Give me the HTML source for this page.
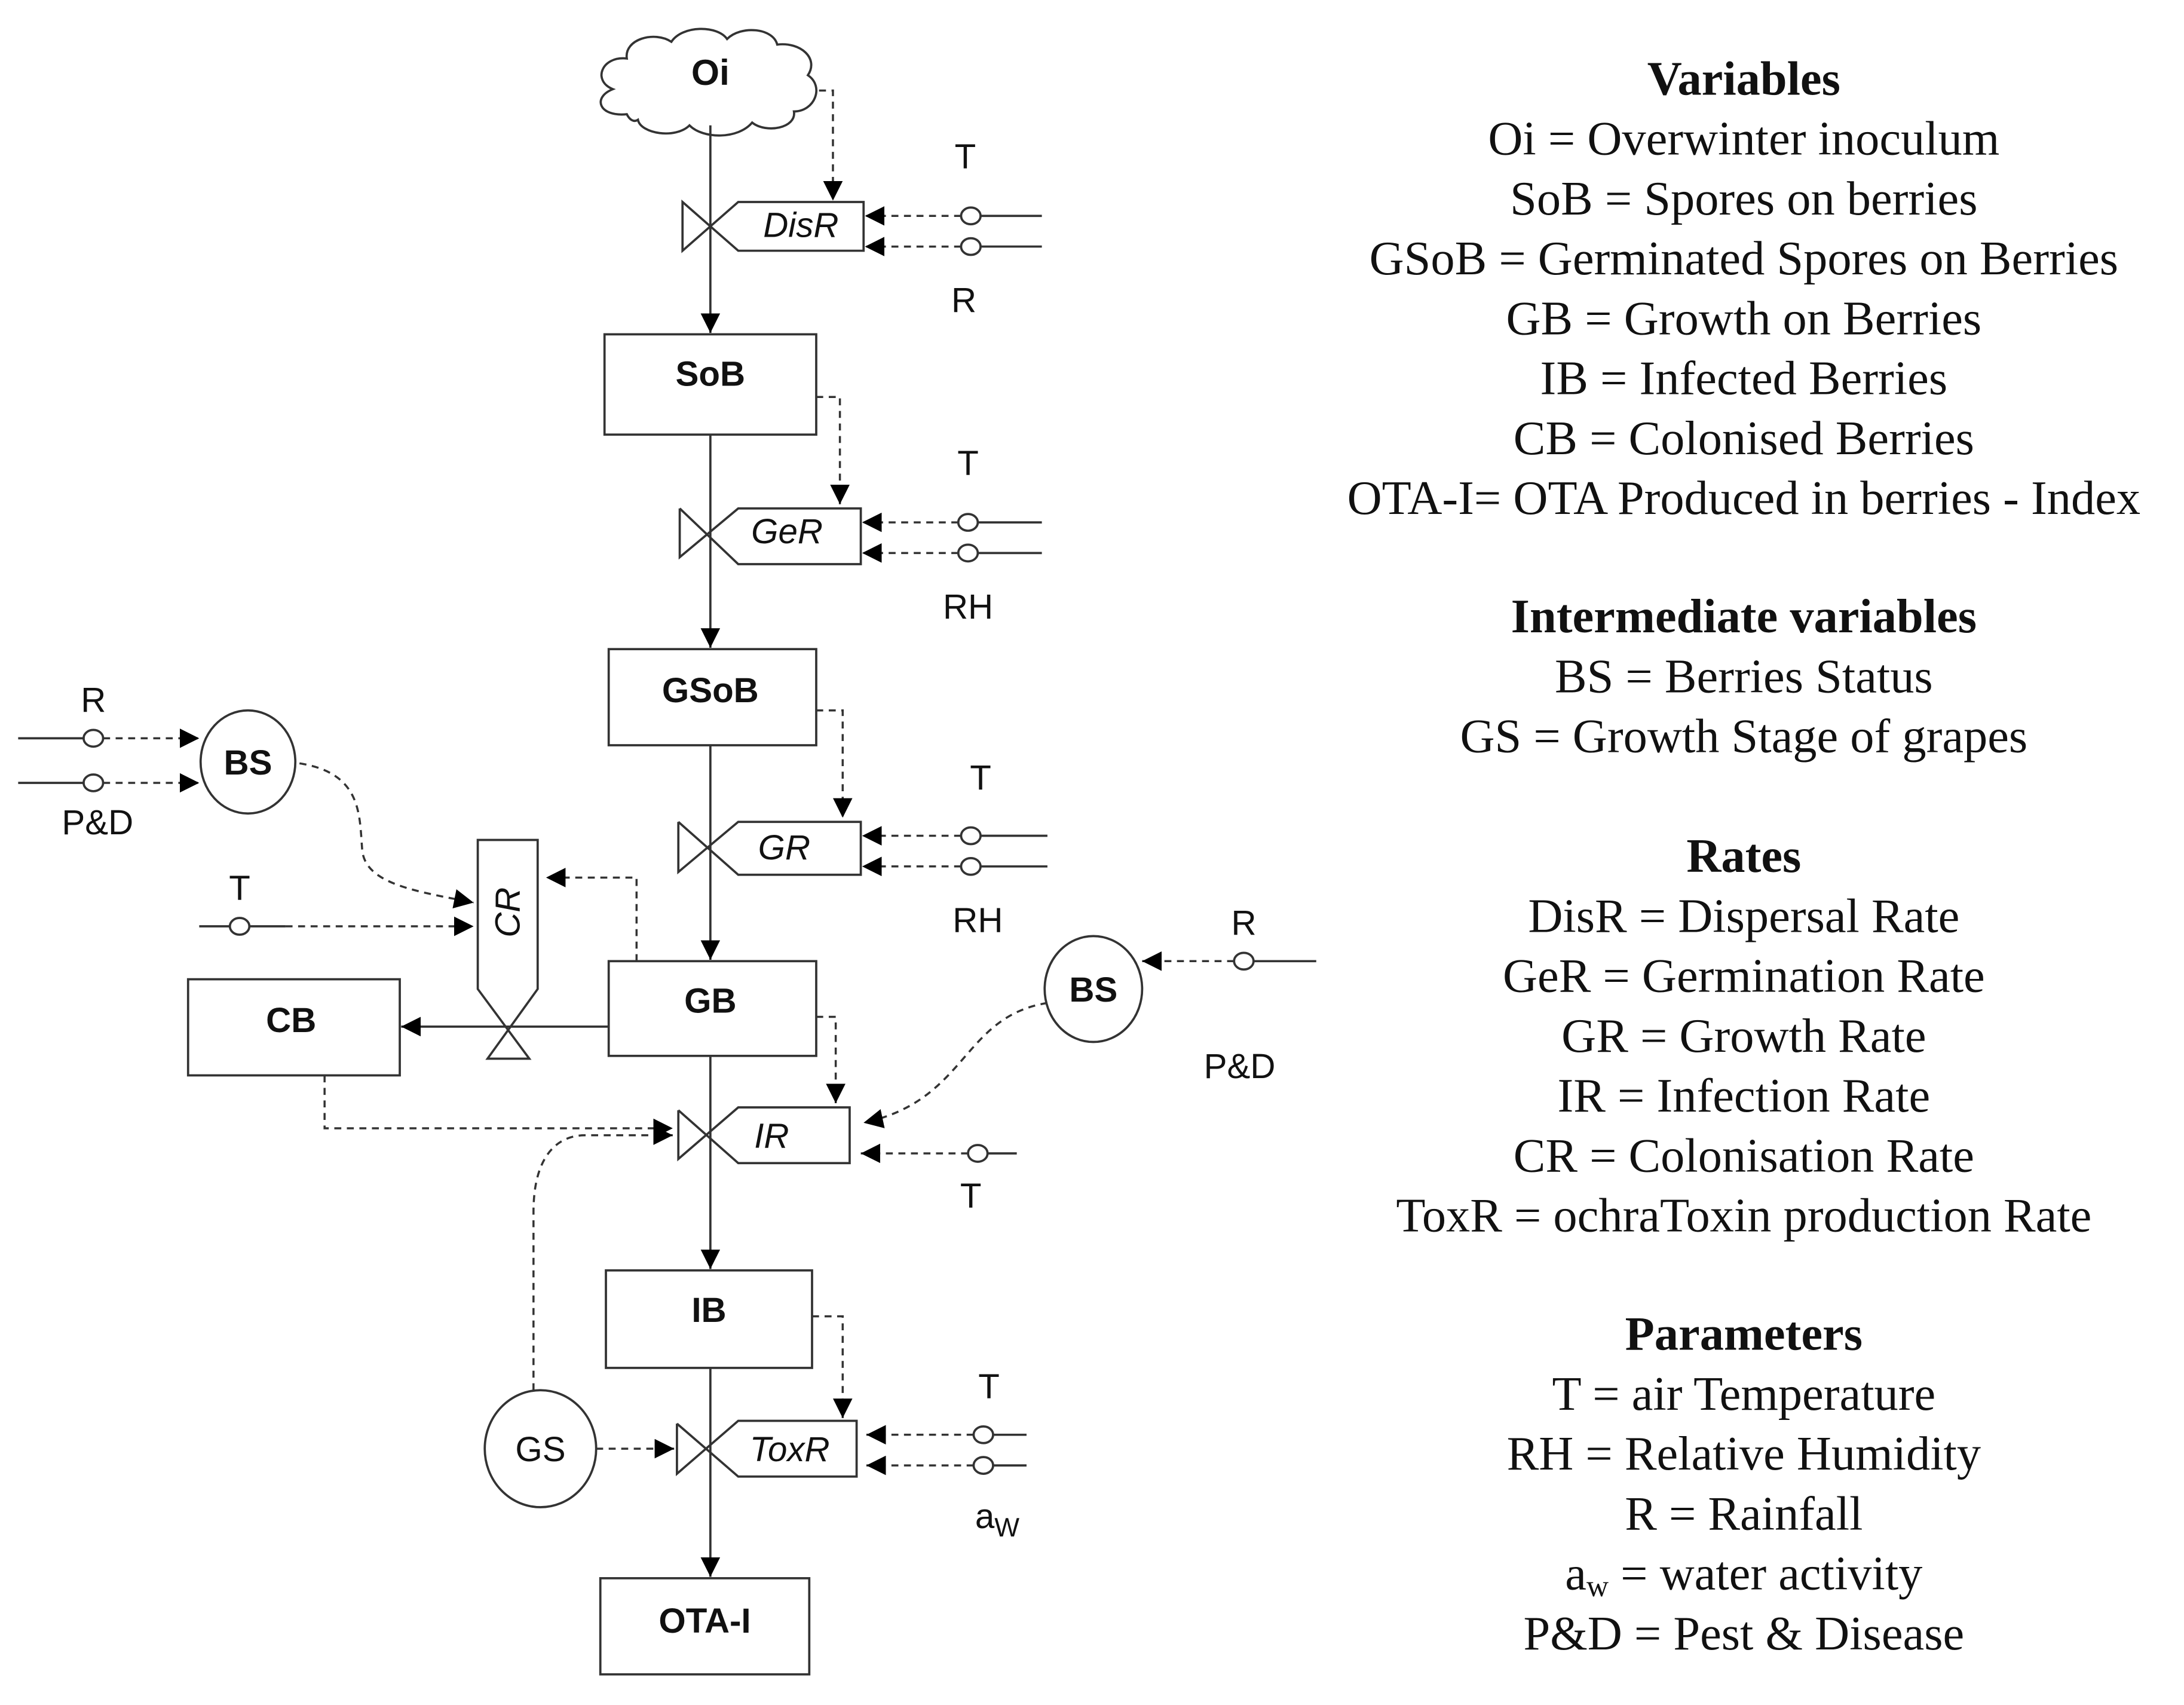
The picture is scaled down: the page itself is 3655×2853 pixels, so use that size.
<!DOCTYPE html>
<html><head><meta charset="utf-8"><style>
html,body{margin:0;padding:0;background:#fff;}
svg{display:block;}
.s{font-family:"Liberation Sans","DejaVu Sans",sans-serif;font-size:25px;fill:#111;}
.b{font-weight:bold;}
.i{font-style:italic;}
.r{font-family:"Liberation Serif",serif;font-size:34.5px;fill:#111;text-anchor:middle;}
</style></head><body>
<svg width="3655" height="2853" viewBox="0 0 1568 1224" xmlns="http://www.w3.org/2000/svg">
<defs>
<marker id="a" viewBox="0 0 10 10" refX="10" refY="5" markerWidth="14" markerHeight="14" markerUnits="userSpaceOnUse" orient="auto"><path d="M0,0L10,5L0,10z" fill="#000"/></marker>
</defs>
<g fill="none" stroke="#333" stroke-width="1.6">
<path d="M450,82 C430,84 425,70 440,64 C425,58 432,40 450,42 C448,28 470,22 482,30 C490,18 515,18 522,28 C532,18 555,20 558,32 C575,30 588,42 580,54 C592,62 585,80 570,80 C572,92 550,96 540,88 C530,100 505,100 495,90 C485,100 460,96 458,86 C455,88 452,86 450,82 Z" fill="#fff"/>
<line x1="510" y1="90" x2="510" y2="239" marker-end="url(#a)"/>
<line x1="510" y1="312" x2="510" y2="465" marker-end="url(#a)"/>
<line x1="510" y1="535" x2="510" y2="689" marker-end="url(#a)"/>
<line x1="510" y1="758" x2="510" y2="911" marker-end="url(#a)"/>
<line x1="510" y1="982" x2="510" y2="1132" marker-end="url(#a)"/>
<rect x="434" y="240" width="152" height="72" fill="#fff"/>
<rect x="437" y="466" width="149" height="69" fill="#fff"/>
<rect x="437" y="690" width="149" height="68" fill="#fff"/>
<rect x="135" y="703" width="152" height="69" fill="#fff"/>
<rect x="435" y="912" width="148" height="70" fill="#fff"/>
<rect x="431" y="1133" width="150" height="69" fill="#fff"/>
<path d="M490,145 L490,180 L530,145 L620,145 L620,180 L530,180 L490,145 Z"/>
<path d="M488,365 L488,400 L530,365 L618,365 L618,405 L530,405 L488,365" />
<path d="M487,590 L487,626 L530,590 L618,590 L618,628 L530,628 L487,590"/>
<path d="M487,797 L487,832 L530,795 L610,795 L610,835 L530,835 L487,797"/>
<path d="M486,1022 L486,1058 L530,1020 L615,1020 L615,1060 L530,1060 L486,1022"/>
<path d="M343,603 L386,603 L386,710 L350,760 L380,760 L343,710 Z"/>
<line x1="437" y1="737" x2="288" y2="737" marker-end="url(#a)"/>
<ellipse cx="178" cy="547" rx="34" ry="37" fill="#fff"/>
<ellipse cx="785" cy="710" rx="35" ry="38" fill="#fff"/>
<ellipse cx="388" cy="1040" rx="40" ry="42" fill="#fff"/>
<line x1="703" y1="155" x2="748" y2="155"/><line x1="703" y1="177" x2="748" y2="177"/>
<line x1="701" y1="375" x2="748" y2="375"/><line x1="701" y1="397" x2="748" y2="397"/>
<line x1="703" y1="600" x2="752" y2="600"/><line x1="703" y1="622" x2="752" y2="622"/>
<line x1="13" y1="530" x2="61" y2="530"/><line x1="13" y1="562" x2="61" y2="562"/>
<line x1="143" y1="665" x2="166" y2="665"/><line x1="178" y1="665" x2="205" y2="665"/>
<line x1="899" y1="690" x2="945" y2="690"/>
<line x1="708" y1="828" x2="730" y2="828"/>
<line x1="712" y1="1030" x2="737" y2="1030"/><line x1="712" y1="1052" x2="737" y2="1052"/>
<g fill="#fff">
<ellipse cx="697" cy="155" rx="7" ry="6"/><ellipse cx="697" cy="177" rx="7" ry="6"/>
<ellipse cx="695" cy="375" rx="7" ry="6"/><ellipse cx="695" cy="397" rx="7" ry="6"/>
<ellipse cx="697" cy="600" rx="7" ry="6"/><ellipse cx="697" cy="622" rx="7" ry="6"/>
<ellipse cx="67" cy="530" rx="7" ry="6"/><ellipse cx="67" cy="562" rx="7" ry="6"/>
<ellipse cx="172" cy="665" rx="7" ry="6"/>
<ellipse cx="893" cy="690" rx="7" ry="6"/>
<ellipse cx="702" cy="828" rx="7" ry="6"/>
<ellipse cx="706" cy="1030" rx="7" ry="6"/><ellipse cx="706" cy="1052" rx="7" ry="6"/>
</g>
</g>
<g fill="none" stroke="#333" stroke-width="1.5" stroke-dasharray="5,4">
<path d="M588,65 L598,65 L598,144" marker-end="url(#a)"/>
<line x1="690" y1="155" x2="621" y2="155" marker-end="url(#a)"/>
<line x1="690" y1="177" x2="621" y2="177" marker-end="url(#a)"/>
<path d="M586,285 L603,285 L603,362" marker-end="url(#a)"/>
<line x1="688" y1="375" x2="619" y2="375" marker-end="url(#a)"/>
<line x1="688" y1="397" x2="619" y2="397" marker-end="url(#a)"/>
<path d="M586,510 L605,510 L605,587" marker-end="url(#a)"/>
<line x1="690" y1="600" x2="619" y2="600" marker-end="url(#a)"/>
<line x1="690" y1="622" x2="619" y2="622" marker-end="url(#a)"/>
<line x1="74" y1="530" x2="143" y2="530" marker-end="url(#a)"/>
<line x1="74" y1="562" x2="143" y2="562" marker-end="url(#a)"/>
<path d="M215,548 C260,555 258,585 260,610 C262,635 300,640 340,648" marker-end="url(#a)"/>
<line x1="205" y1="665" x2="340" y2="665" marker-end="url(#a)"/>
<path d="M457,690 L457,630 L392,630" marker-end="url(#a)"/>
<path d="M586,730 L600,730 L600,792" marker-end="url(#a)"/>
<line x1="886" y1="690" x2="820" y2="690" marker-end="url(#a)"/>
<path d="M752,720 C690,730 695,790 620,806" marker-end="url(#a)"/>
<line x1="695" y1="828" x2="618" y2="828" marker-end="url(#a)"/>
<path d="M233,772 L233,810 L483,810" marker-end="url(#a)"/>
<path d="M383,998 L383,870 C383,830 400,815 420,815 L483,815" marker-end="url(#a)"/>
<line x1="428" y1="1040" x2="484" y2="1040" marker-end="url(#a)"/>
<path d="M583,945 L605,945 L605,1018" marker-end="url(#a)"/>
<line x1="699" y1="1030" x2="622" y2="1030" marker-end="url(#a)"/>
<line x1="699" y1="1052" x2="622" y2="1052" marker-end="url(#a)"/>
</g>
<g class="s" text-anchor="middle">
<text x="510" y="61" class="b" font-size="26">Oi</text>
<text x="575" y="170" class="i">DisR</text>
<text x="565" y="390" class="i">GeR</text>
<text x="563" y="617" class="i">GR</text>
<text x="554" y="824" class="i">IR</text>
<text x="567" y="1049" class="i">ToxR</text>
<text transform="translate(373,655) rotate(-90)" class="i">CR</text>
<text x="510" y="277" class="b">SoB</text>
<text x="510" y="504" class="b">GSoB</text>
<text x="510" y="727" class="b">GB</text>
<text x="209" y="741" class="b">CB</text>
<text x="509" y="949" class="b">IB</text>
<text x="506" y="1172" class="b">OTA-I</text>
<text x="178" y="556" class="b">BS</text>
<text x="785" y="719" class="b">BS</text>
<text x="388" y="1049">GS</text>
<text x="693" y="121">T</text><text x="692" y="224">R</text>
<text x="695" y="341">T</text><text x="695" y="444">RH</text>
<text x="704" y="567">T</text><text x="702" y="669">RH</text>
<text x="67" y="511">R</text><text x="70" y="599">P&amp;D</text>
<text x="172" y="646">T</text>
<text x="893" y="671">R</text><text x="890" y="774">P&amp;D</text>
<text x="697" y="867">T</text>
<text x="710" y="1004">T</text>
<text x="716" y="1097">a<tspan font-size="19" dy="6">W</tspan></text>
</g>
<g class="r">
<text x="1252" y="68" font-weight="bold">Variables</text>
<text x="1252" y="111">Oi = Overwinter inoculum</text>
<text x="1252" y="154">SoB = Spores on berries</text>
<text x="1252" y="197">GSoB = Germinated Spores on Berries</text>
<text x="1252" y="240">GB = Growth on Berries</text>
<text x="1252" y="283">IB = Infected Berries</text>
<text x="1252" y="326">CB = Colonised Berries</text>
<text x="1252" y="369">OTA-I= OTA Produced in berries - Index</text>
<text x="1252" y="454" font-weight="bold">Intermediate variables</text>
<text x="1252" y="497">BS = Berries Status</text>
<text x="1252" y="540">GS = Growth Stage of grapes</text>
<text x="1252" y="626" font-weight="bold">Rates</text>
<text x="1252" y="669">DisR = Dispersal Rate</text>
<text x="1252" y="712">GeR = Germination Rate</text>
<text x="1252" y="755">GR = Growth Rate</text>
<text x="1252" y="798">IR = Infection Rate</text>
<text x="1252" y="841">CR = Colonisation Rate</text>
<text x="1252" y="884">ToxR = ochraToxin production Rate</text>
<text x="1252" y="969" font-weight="bold">Parameters</text>
<text x="1252" y="1012">T = air Temperature</text>
<text x="1252" y="1055">RH = Relative Humidity</text>
<text x="1252" y="1098">R = Rainfall</text>
<text x="1252" y="1141">a<tspan font-size="22" dy="5">w</tspan><tspan dy="-5"> = water activity</tspan></text>
<text x="1252" y="1184">P&amp;D = Pest &amp; Disease</text>
</g>
</svg>
</body></html>
